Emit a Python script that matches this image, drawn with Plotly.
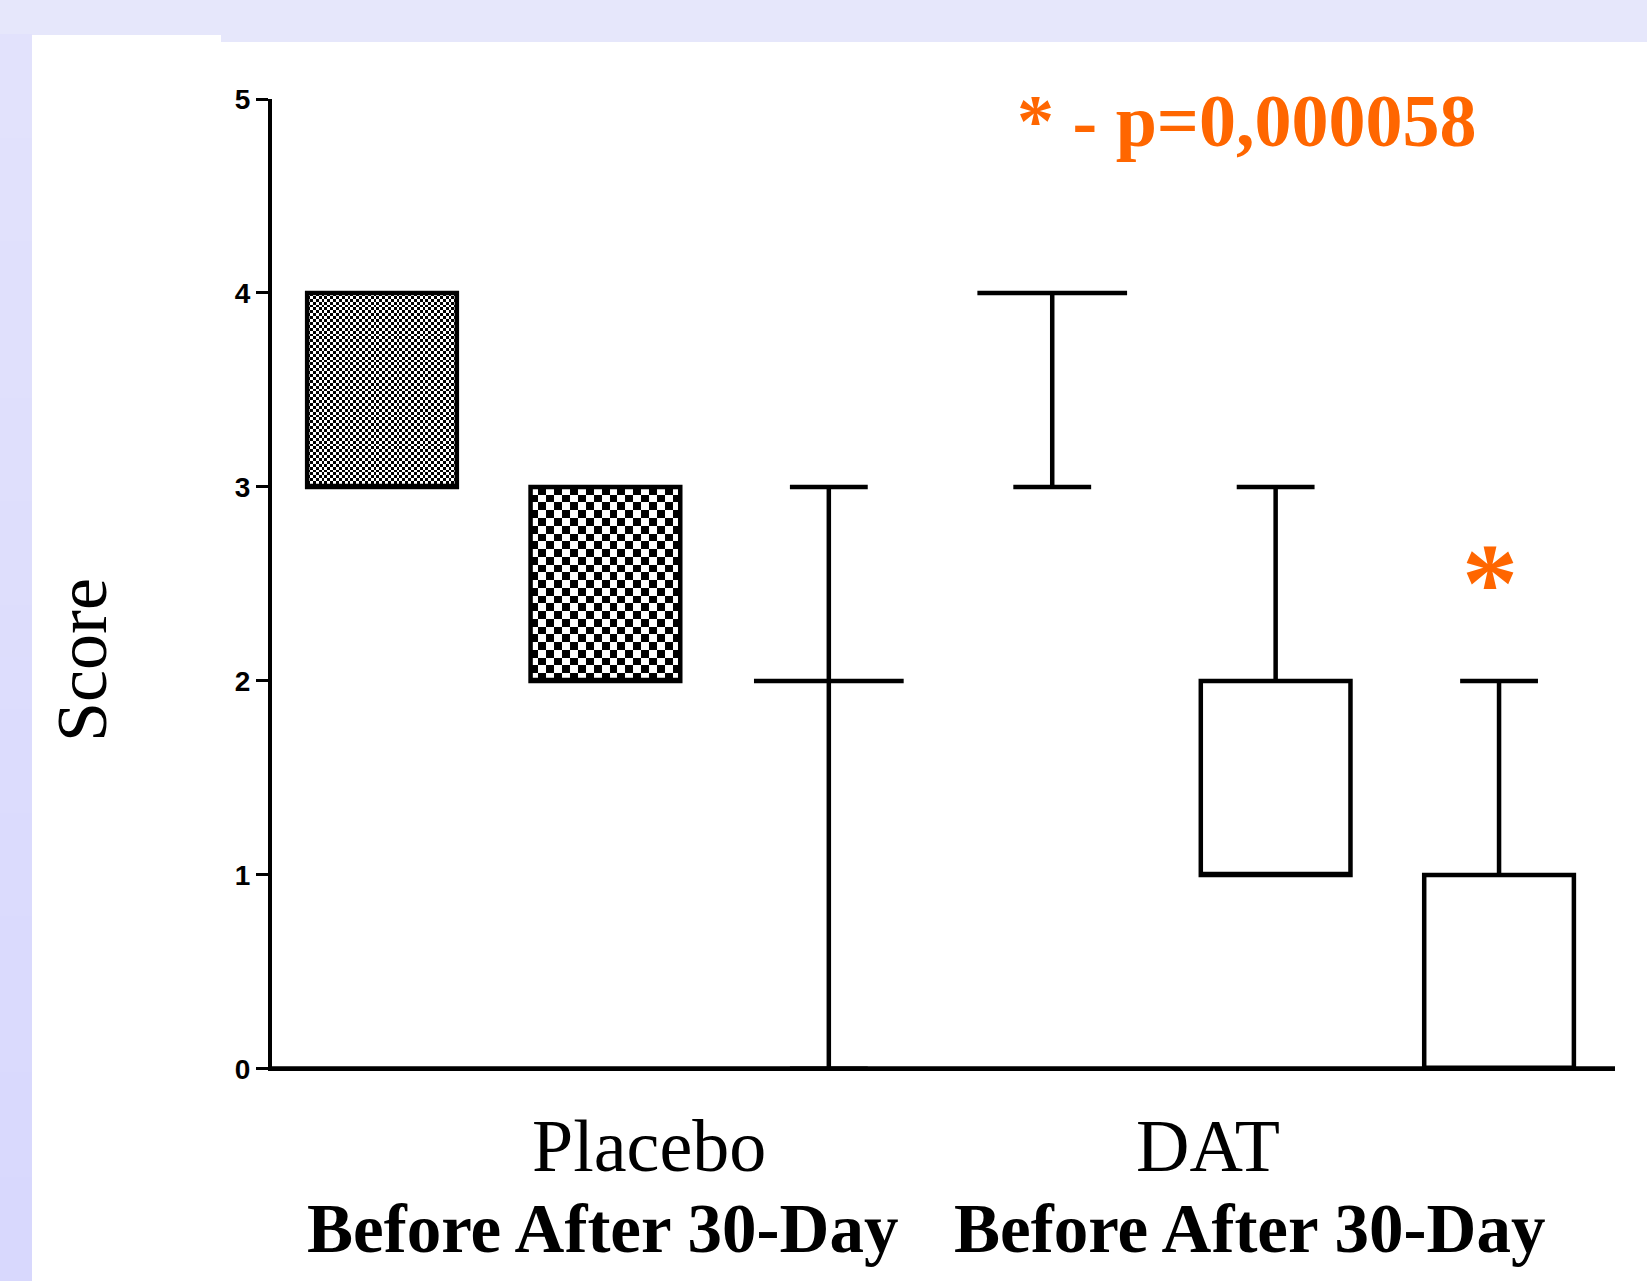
import plotly.graph_objects as go
import numpy as np

# ---------------- data ----------------
groups = ["Placebo", "DAT"]
timepoints = ["Before", "After", "30-Day"]
positions = [1, 2, 3, 4, 5, 6]
q1 = [3, 2, 2, 4, 1, 0]
median = [3, 2, 2, 4, 1, 0]
q3 = [4, 3, 2, 4, 2, 1]
lowerfence = [3, 2, 0, 3, 1, 0]
upperfence = [4, 3, 3, 4, 3, 2]
y_ticks = [0, 1, 2, 3, 4, 5]
p_text = "* - p=0,000058"
sig_marker = "*"
sig_position = 6

# ---------------- layout geometry ----------------
W, H = 1647, 1281
L, R, T, B = 272, 32, 99, 210
PW, PH = W - L - R, H - T - B
XR = [0.5076, 6.519]
YR = [-0.011, 5]
BOX_W = 0.67
LW = 4.5


def px_x(px):
    return (px - L) / PW


def px_y(py):
    return (H - B - py) / PH


fig = go.Figure()

# checkerboard fills for the placebo before/after boxes (cell size in px)
pattern_cells = {0: 2.9, 1: 7.9}
xscale = PW / (XR[1] - XR[0])
yscale = PH / (YR[1] - YR[0])
for idx, cell in pattern_cells.items():
    x0 = positions[idx] - BOX_W / 2
    x1 = positions[idx] + BOX_W / 2
    y0, y1 = q1[idx], q3[idx]
    nx = max(1, int(round((x1 - x0) * xscale / cell)))
    ny = max(1, int(round((y1 - y0) * yscale / cell)))
    xe = np.linspace(x0, x1, nx + 1)
    ye = np.linspace(y0, y1, ny + 1)
    z = [[(r + c) % 2 for c in range(nx)] for r in range(ny)]
    fig.add_trace(go.Heatmap(
        x=xe, y=ye, z=z, zmin=0, zmax=1,
        colorscale=[[0, "white"], [1, "black"]],
        showscale=False, hoverinfo="skip", xgap=0, ygap=0,
    ))

fig.add_trace(go.Box(
    x=positions, q1=q1, median=median, q3=q3,
    lowerfence=lowerfence, upperfence=upperfence,
    width=BOX_W, whiskerwidth=0.52,
    fillcolor="rgba(0,0,0,0)",
    line=dict(color="black", width=LW),
    boxpoints=False, showlegend=False, hoverinfo="skip",
))

# ---------------- background shapes ----------------
shapes = []
n_bands = 24
top_c = np.array([227, 227, 252])
bot_c = np.array([216, 216, 254])
for i in range(n_bands):
    ya = 35 + (H - 35) * i / n_bands
    yb = 35 + (H - 35) * (i + 1) / n_bands
    c = top_c + (bot_c - top_c) * (i + 0.5) / n_bands
    shapes.append(dict(type="rect", xref="paper", yref="paper",
                       x0=px_x(0), x1=px_x(32), y0=px_y(yb), y1=px_y(ya) + 0.001,
                       fillcolor="rgb(%d,%d,%d)" % tuple(c.astype(int)),
                       line=dict(width=0), layer="below"))
shapes.append(dict(type="rect", xref="paper", yref="paper",
                   x0=px_x(32), x1=px_x(W), y0=px_y(H), y1=px_y(42),
                   fillcolor="white", line=dict(width=0), layer="below"))
shapes.append(dict(type="rect", xref="paper", yref="paper",
                   x0=px_x(32), x1=px_x(221), y0=px_y(43), y1=px_y(35),
                   fillcolor="white", line=dict(width=0), layer="below"))
# horizontal axis line at y = 0
shapes.append(dict(type="line", xref="x", yref="y", x0=XR[0], x1=XR[1], y0=0, y1=0,
                   line=dict(color="black", width=5), layer="above"))

# ---------------- annotations ----------------
serif = "Liberation Serif, Times New Roman, serif"
ann = []
group_centers_px = [649, 1208]
for g, cx in zip(groups, group_centers_px):
    ann.append(dict(text=g, x=px_x(cx), y=px_y(1146), xref="paper", yref="paper",
                    showarrow=False, xanchor="center", yanchor="middle",
                    font=dict(family=serif, size=74, color="black")))
sub_centers_px = [602, 1249]
for cx in sub_centers_px:
    ann.append(dict(text="<b>" + " ".join(timepoints) + "</b>", x=px_x(cx), y=px_y(1229),
                    xref="paper", yref="paper", showarrow=False,
                    xanchor="center", yanchor="middle",
                    font=dict(family=serif, size=69, color="black")))
ann.append(dict(text="Score", x=px_x(82), y=px_y(660), xref="paper", yref="paper",
                showarrow=False, textangle=-90, xanchor="center", yanchor="middle",
                font=dict(family=serif, size=72, color="black")))
ann.append(dict(text="<b>" + p_text + "</b>", x=px_x(1246), y=px_y(121), xref="paper",
                yref="paper", showarrow=False, xanchor="center", yanchor="middle",
                font=dict(family=serif, size=74, color="#FF6600")))
ann.append(dict(text="<b>" + sig_marker + "</b>", x=sig_position - 0.04, y=px_y(583),
                xref="x", yref="paper", showarrow=False, xanchor="center", yanchor="middle",
                font=dict(family=serif, size=112, color="#FF6600")))

fig.update_layout(
    width=W, height=H,
    margin=dict(l=L, r=R, t=T, b=B, pad=0),
    paper_bgcolor="rgb(230,231,251)",
    plot_bgcolor="white",
    shapes=shapes, annotations=ann,
    showlegend=False,
    xaxis=dict(range=XR, showline=False,
               showticklabels=False, ticks="", showgrid=False, zeroline=False),
    yaxis=dict(range=YR, tickvals=y_ticks, showline=True, linewidth=4, linecolor="black",
               ticks="outside", ticklen=12, tickwidth=3, tickcolor="black",
               tickfont=dict(family="Liberation Sans, Arial", size=28, color="black", weight="bold"),
               showgrid=False, zeroline=False),
)

fig.write_html("out.html")
